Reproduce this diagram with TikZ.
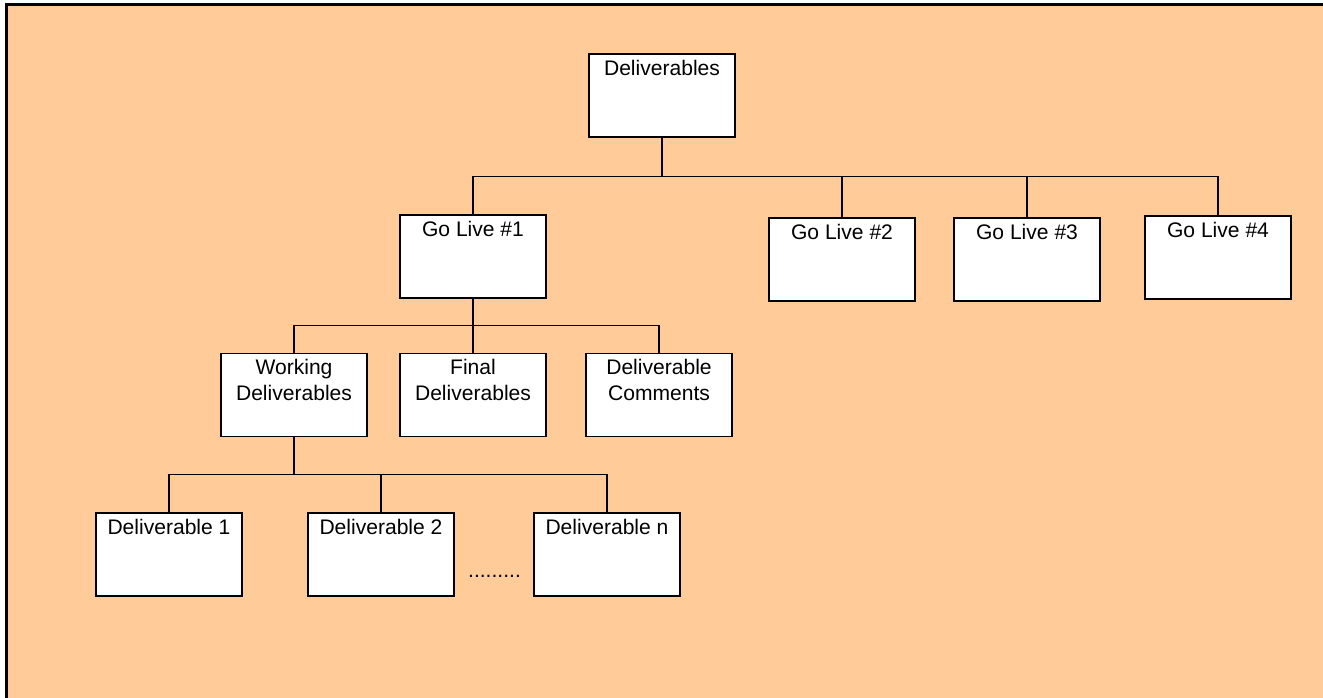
\documentclass[tikz,border=0pt]{standalone}
\usepackage{fontspec}
\setmainfont{Liberation Sans}
\definecolor{peach}{HTML}{FFCC99}
\tikzset{
  box/.style={draw=black, line width=0.9pt, fill=white,
    minimum width=109.5pt, inner xsep=0pt, inner ysep=4.6pt,
    text height=11.3pt, text depth=41.7pt, align=center,
    font=\fontsize{15.8}{19.3}\selectfont},
  box2/.style={box, text height=30.6pt, text depth=22.4pt},
  link/.style={draw=black, line width=0.8pt},
  trunk/.style={draw=black, line width=1.4pt},
}
\begin{document}
\begin{tikzpicture}[x=0.75pt, y=-0.75pt]
  \useasboundingbox (0,0) rectangle (1323,698);
  % background panel, only its top and left edges show
  \fill[peach] (6.5,4.5) rectangle (1330,705);
  \draw[line width=2.25pt] (6.5,710) -- (6.5,4.5) -- (1330,4.5);

  % level 0
  \node[box] (top) at (662,95.5) {Deliverables};
  % level 1
  \node[box] (g1) at (473,256.5) {Go Live \#1};
  \node[box] (g2) at (842,259.5) {Go Live \#2};
  \node[box] (g3) at (1027,259.5) {Go Live \#3};
  \node[box] (g4) at (1218,257.5) {Go Live \#4};
  % level 2
  \node[box2] (wd) at (294,395) {Working\\Deliverables};
  \node[box2] (fd) at (473,395) {Final\\Deliverables};
  \node[box2] (dc) at (659,395) {Deliverable\\Comments};
  % level 3
  \node[box] (d1) at (169,554.5) {Deliverable 1};
  \node[box] (d2) at (381,554.5) {Deliverable 2};
  \node[box] (dn) at (607,554.5) {Deliverable n};
  \node[font=\fontsize{15.8}{19.3}\selectfont, inner sep=0pt, anchor=base] (dots)
    at (494.5,577) {.........};

  % connectors from Deliverables
  \draw[trunk] (top.south) -- ++(0,39) -| (g3.north);
  \draw[link] (top.south) ++(0,39) -| (g1.north);
  \draw[link] (top.south) ++(0,39) -| (g2.north);
  \draw[link] (top.south) ++(0,39) -| (g4.north);
  % connectors from Go Live #1
  \draw[trunk] (g1.south) -- ++(0,27) -- (fd.north);
  \draw[link] (g1.south) ++(0,27) -| (wd.north);
  \draw[link] (g1.south) ++(0,27) -| (dc.north);
  % connectors from Working Deliverables
  \draw[trunk] (wd.south) -- ++(0,37);
  \draw[link] (wd.south) ++(0,37) -| (d1.north);
  \draw[link] (wd.south) ++(0,37) -| (d2.north);
  \draw[link] (wd.south) ++(0,37) -| (dn.north);
\end{tikzpicture}
\end{document}
